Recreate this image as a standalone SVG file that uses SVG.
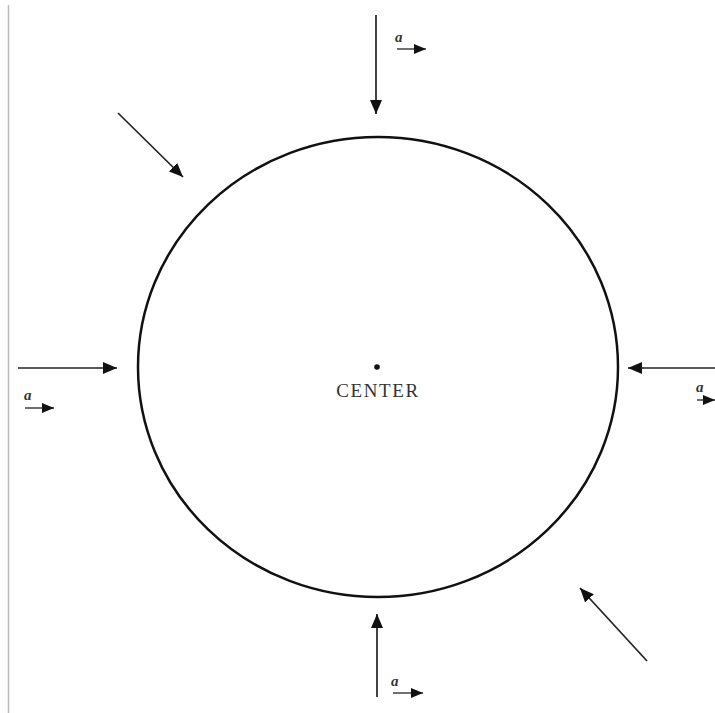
<svg xmlns="http://www.w3.org/2000/svg" width="715" height="713" viewBox="0 0 715 713">
<style>
.ln{stroke:#222;stroke-width:1.7;fill:none}
.sm{stroke:#333;stroke-width:1.4;fill:none}
.lbl{font-family:"Liberation Serif",serif;font-style:italic;font-weight:bold;font-size:15px;fill:#333}
.ctr{font-family:"Liberation Serif",serif;font-size:19px;fill:#333;letter-spacing:1.6px}
</style>
<defs>
<marker id="ah" viewBox="0 0 10 10" refX="10" refY="5" markerWidth="12" markerHeight="10" markerUnits="userSpaceOnUse" orient="auto" preserveAspectRatio="none">
<path d="M0,0 L10,5 L0,10 z" fill="#111"/>
</marker>
<marker id="ahs" viewBox="0 0 10 10" refX="10" refY="5" markerWidth="14" markerHeight="12" markerUnits="userSpaceOnUse" orient="auto" preserveAspectRatio="none">
<path d="M0,0 L10,5 L0,10 z" fill="#111"/>
</marker>
</defs>
<rect width="715" height="713" fill="#fff"/>
<line x1="8.5" y1="5" x2="8.5" y2="713" stroke="#bbb" stroke-width="1.5"/>
<g id="circle">
<ellipse cx="378" cy="367" rx="240" ry="230" fill="none" stroke="#111" stroke-width="2.5"/>
</g>
<g id="center">
<circle cx="377" cy="367" r="2.8" fill="#111"/>
<text class="ctr" x="378" y="397" text-anchor="middle">CENTER</text>
</g>
<g id="connectors">
<line class="ln" x1="376" y1="15" x2="376" y2="114" marker-end="url(#ahs)"/>
<line class="ln" x1="18" y1="368" x2="117" y2="368" marker-end="url(#ahs)"/>
<line class="ln" x1="715" y1="368" x2="628" y2="368" marker-end="url(#ahs)"/>
<line class="ln" x1="377" y1="697" x2="377" y2="614" marker-end="url(#ahs)"/>
<line class="ln" x1="118" y1="113" x2="183" y2="177" marker-end="url(#ahs)"/>
<line class="ln" x1="647" y1="661" x2="580" y2="588" marker-end="url(#ahs)"/>
</g>
<g id="label-top">
<text class="lbl" x="395" y="42">a</text>
<line class="sm" x1="397" y1="49" x2="426" y2="49" marker-end="url(#ah)"/>
</g>
<g id="label-left">
<text class="lbl" x="24" y="400">a</text>
<line class="sm" x1="25" y1="408" x2="54" y2="408" marker-end="url(#ah)"/>
</g>
<g id="label-right">
<text class="lbl" x="696" y="392">a</text>
<line class="sm" x1="697" y1="400" x2="715" y2="400" marker-end="url(#ah)"/>
</g>
<g id="label-bottom">
<text class="lbl" x="391" y="686">a</text>
<line class="sm" x1="393" y1="693" x2="423" y2="693" marker-end="url(#ah)"/>
</g>
</svg>
